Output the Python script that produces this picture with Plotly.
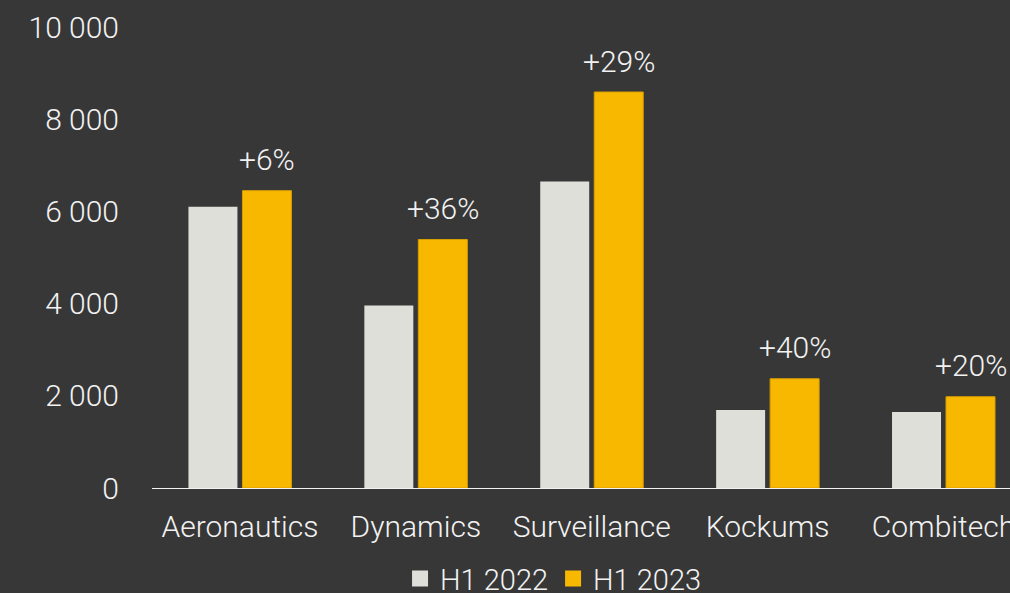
import plotly.graph_objects as go

categories = ["Aeronautics", "Dynamics", "Surveillance", "Kockums", "Combitech"]
h1_2022 = [6100, 3960, 6650, 1690, 1650]
h1_2023 = [6450, 5390, 8590, 2370, 1980]
growth_labels = ["+6%", "+36%", "+29%", "+40%", "+20%"]
series_names = ["H1 2022", "H1 2023"]

BG = "#373737"
GRAY = "#dfdfda"
GOLD = "#f9b800"
TXT = "#f2f2f2"
FONT = "Roboto"
FS = 30

fig = go.Figure()
fig.add_trace(go.Bar(x=categories, y=h1_2022, name=series_names[0], marker=dict(color=GRAY, line=dict(width=0)), showlegend=False))
fig.add_trace(go.Bar(x=categories, y=h1_2023, name=series_names[1], marker=dict(color=GOLD, line=dict(width=1, color="#d99f00")), showlegend=False))

# legend proxies
for nm, col in zip(series_names, [GRAY, GOLD]):
    fig.add_trace(go.Scatter(x=[None], y=[None], mode="markers", name=nm,
                             marker=dict(symbol="square", size=17, color=col)))

for cat, v, lab in zip(categories, h1_2023, growth_labels):
    fig.add_annotation(x=cat, y=v, text=lab, showarrow=False, xshift=27, yshift=31,
                       yanchor="middle", font=dict(size=FS, color=TXT, family=FONT, weight=300))

fig.update_layout(
    width=1010, height=593,
    paper_bgcolor=BG, plot_bgcolor=BG,
    margin=dict(l=152, r=0, t=27, b=105, autoexpand=False),
    barmode="group", bargap=0.386, bargroupgap=0.093,
    separators=". ",
    font=dict(family=FONT, size=FS, color=TXT, weight=300),
    xaxis=dict(range=[-0.5, 4.378], showgrid=False, showline=True, linecolor="#f2f2f2", linewidth=1,
               ticks="", ticklabelstandoff=12, tickfont=dict(size=FS, color=TXT, family=FONT, weight=300)),
    yaxis=dict(range=[0, 10000], dtick=2000, tickformat=",d", showgrid=False, zeroline=False,
               ticks="", ticklabelstandoff=32, tickfont=dict(size=FS, color=TXT, family=FONT, weight=300)),
    legend=dict(orientation="h", x=0.468, xanchor="center", yref="container", y=0.024, yanchor="middle",
                font=dict(size=29, color=TXT, family=FONT, weight=300), bgcolor="rgba(0,0,0,0)",
                itemsizing="trace", tracegroupgap=0, itemwidth=30),
)

fig.write_html("out.html")
